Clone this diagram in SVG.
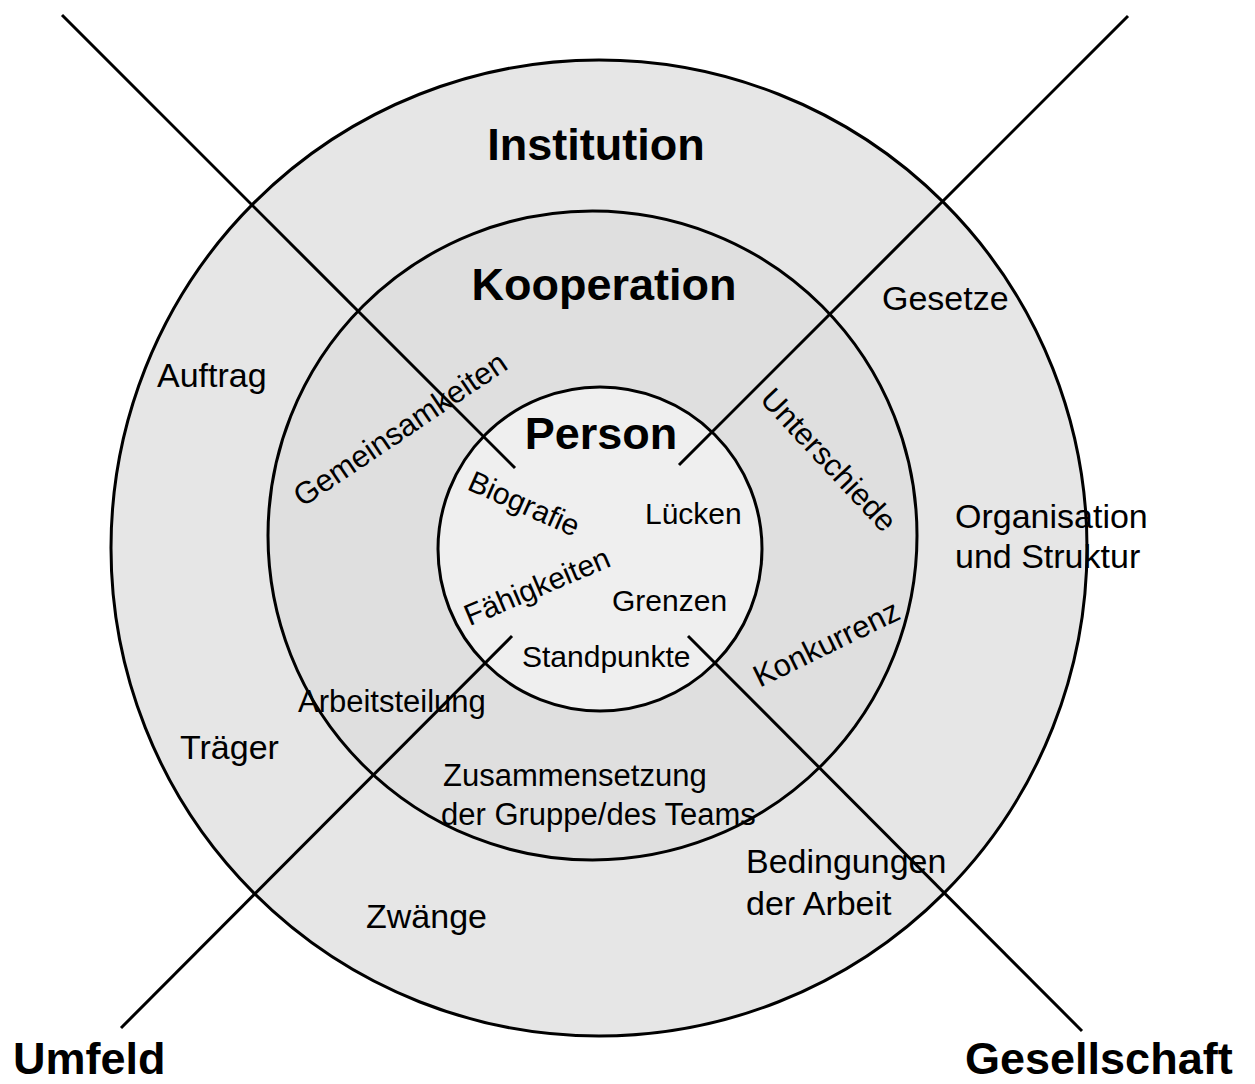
<svg xmlns="http://www.w3.org/2000/svg" width="1255" height="1084" viewBox="0 0 1255 1084">
  <style>
    .ring { stroke: #000; stroke-width: 3; }
    .conn { stroke: #000; stroke-width: 3; fill: none; }
    .to { font-family: "Liberation Sans", Arial, sans-serif; font-size: 34px; fill: #000; }
    .t { font-family: "Liberation Sans", Arial, sans-serif; font-size: 31px; fill: #000; }
    .ti { font-family: "Liberation Sans", Arial, sans-serif; font-size: 30px; fill: #000; }
    .h { font-family: "Liberation Sans", Arial, sans-serif; font-size: 45px; font-weight: bold; fill: #000; }
  </style>
  <rect x="0" y="0" width="1255" height="1084" fill="#ffffff"/>
  <g id="institution">
    <circle class="ring" cx="599" cy="548" r="488" fill="#e6e6e6"/>
  </g>
  <g id="kooperation">
    <circle class="ring" cx="592.5" cy="535.5" r="324.5" fill="#dfdfdf"/>
  </g>
  <g id="person">
    <circle class="ring" cx="600" cy="549" r="162" fill="#efefef"/>
  </g>
  <g id="connectors">
    <line class="conn" x1="62" y1="15" x2="515" y2="468"/>
    <line class="conn" x1="1128" y1="16" x2="679" y2="465"/>
    <line class="conn" x1="121" y1="1028" x2="512" y2="636"/>
    <line class="conn" x1="1082" y1="1031" x2="688" y2="636"/>
  </g>
  <g id="labels-institution">
    <text class="h" x="596" y="160" text-anchor="middle">Institution</text>
    <text class="to" x="157" y="387">Auftrag</text>
    <text class="to" x="882" y="310">Gesetze</text>
    <text class="to" x="955" y="528">Organisation</text>
    <text class="to" x="955" y="568">und Struktur</text>
    <text class="to" x="180" y="759">Träger</text>
    <text class="to" x="366" y="928">Zwänge</text>
    <text class="to" x="746" y="873">Bedingungen</text>
    <text class="to" x="746" y="915">der Arbeit</text>
  </g>
  <g id="labels-kooperation">
    <text class="h" x="604" y="300" text-anchor="middle">Kooperation</text>
    <text class="t" x="298" y="712">Arbeitsteilung</text>
    <text class="t" x="443" y="786">Zusammensetzung</text>
    <text class="t" x="441" y="825">der Gruppe/des Teams</text>
    <text class="t" transform="translate(406,438) rotate(-34)" text-anchor="middle">Gemeinsamkeiten</text>
    <text class="t" transform="translate(821,467) rotate(47)" text-anchor="middle">Unterschiede</text>
    <text class="t" transform="translate(831,653) rotate(-26)" text-anchor="middle">Konkurrenz</text>
  </g>
  <g id="labels-person">
    <text class="h" x="601" y="449" text-anchor="middle">Person</text>
    <text class="ti" transform="translate(520,513) rotate(24)" text-anchor="middle">Biografie</text>
    <text class="ti" transform="translate(541,596) rotate(-23)" text-anchor="middle">Fähigkeiten</text>
    <text class="ti" x="645" y="524">Lücken</text>
    <text class="ti" x="612" y="611">Grenzen</text>
    <text class="ti" x="522" y="667">Standpunkte</text>
  </g>
  <g id="labels-outside">
    <text class="h" x="13" y="1074">Umfeld</text>
    <text class="h" x="965" y="1074">Gesellschaft</text>
  </g>
</svg>
